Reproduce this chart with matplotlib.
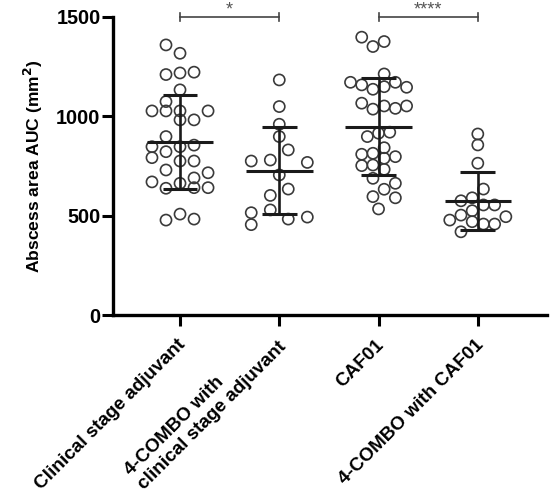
import numpy as np
import matplotlib
matplotlib.use("Agg")
import matplotlib.pyplot as plt
from matplotlib.transforms import ScaledTranslation

plt.rcParams['font.family'] = ['Liberation Sans', 'DejaVu Sans']
plt.rcParams['font.weight'] = 'bold'

groups = ["Clinical stage adjuvant", "4-COMBO with\nclinical stage adjuvant",
          "CAF01", "4-COMBO with CAF01"]

# point values, with the swarm column of each point
g1_vals = [1359, 1317, 1210, 1218, 1222, 1133, 1074, 1027, 1027, 1027, 1027,
           982, 982, 898, 847, 822, 847, 855, 792, 775, 775, 730, 716, 670,
           663, 690, 638, 641, 641, 478, 508, 483]
g1_cols = [-2.5, 0, -2.5, 0, 2.5, 0, -2.5, -5, -2.5, 0, 5,
           0, 2.5, -2.5, -5, -2.5, 0, 2.5, -5, 0, 2.5, -2.5, 5, -5,
           0, 2.5, -2.5, 2.5, 5, -2.5, 0, 2.5]

g2_vals = [1183, 1049, 960, 898, 831, 775, 780, 768, 705, 634, 602, 529,
           515, 455, 483, 493]
g2_cols = [0, 0, 0, 0, 1.6, -5, -1.6, 5, 0, 1.6, -1.6, -1.6,
           -5, -5, 1.6, 5]

g3_vals = [1398, 1351, 1376, 1213, 1171, 1158, 1136, 1149, 1171, 1146,
           1066, 1036, 1052, 1040, 1052, 898, 915, 920, 842, 809, 814, 789,
           797, 752, 755, 733, 688, 663, 633, 596, 590, 534]
g3_cols = [-3, -1, 1, 1, -5, -3, -1, 1, 3, 5,
           -3, -1, 1, 3, 5, -2, 0, 2, 1, -3, -1, 1,
           3, -3, -1, 1, -1, 3, 1, -1, 3, 0]

g4_vals = [911, 856, 764, 634, 575, 590, 554, 554, 525, 503, 495, 478,
           470, 458, 458, 419]
g4_cols = [0, 0, 0, 1, -3, -1, 1, 3, -1, -3, 5, -5,
           -1, 1, 3, -3]

means = [872, 726, 948, 575]
sds = [236, 219, 243, 145]

sig_pairs = [(0, 1), (2, 3)]
sig_labels = ["*", "****"]

values = [g1_vals, g2_vals, g3_vals, g4_vals]
cols = [g1_cols, g2_cols, g3_cols, g4_cols]

fig = plt.figure(figsize=(5.54, 4.97), dpi=100)
ax = fig.add_axes([0.204, 0.366, 0.783, 0.600])

slot = 0.0565
for i in range(len(groups)):
    x = i + np.array(cols[i]) * slot
    ax.scatter(x, values[i], s=64, facecolors='none', edgecolors='#3a3a3a',
               linewidths=1.2, zorder=2, clip_on=False)
    # mean line and SD whiskers
    ax.hlines(means[i], i - 0.335, i + 0.335, color='#1a1a1a', lw=2.2, zorder=3)
    ax.vlines(i, means[i] - sds[i], means[i] + sds[i], color='#1a1a1a', lw=1.9, zorder=3)
    ax.hlines([means[i] - sds[i], means[i] + sds[i]], i - 0.175, i + 0.175,
              color='#1a1a1a', lw=2.2, zorder=3)

for (a, b), lab in zip(sig_pairs, sig_labels):
    ax.plot([a, b], [1500, 1500], color='#444444', lw=1.2, clip_on=False)
    ax.plot([a, a], [1480, 1520], color='#444444', lw=1.2, clip_on=False)
    ax.plot([b, b], [1480, 1520], color='#444444', lw=1.2, clip_on=False)
    ax.text((a + b) / 2, 1580, lab, ha='center', va='top', fontsize=13,
            color='#555555', fontweight='normal', clip_on=False)

ax.set_xlim(-0.675, 3.695)
ax.set_ylim(0, 1500)
ax.set_yticks([0, 500, 1000, 1500])
ax.set_yticklabels(['0', '500', '1000', '1500'], fontsize=14.3, fontweight='bold')
ax.set_xticks(range(len(groups)))
ax.set_xticklabels(groups, rotation=45, ha='right', va='baseline',
                   rotation_mode='anchor', fontsize=13.6, fontweight='bold',
                   multialignment='left')
ax.set_ylabel('Abscess area AUC (mm$\\mathbf{^2}$)', fontsize=12.6,
              fontweight='bold', labelpad=8)

for s in ['top', 'right']:
    ax.spines[s].set_visible(False)
for s in ['left', 'bottom']:
    ax.spines[s].set_linewidth(2.4)
ax.tick_params(axis='both', width=2.2, length=8, pad=1)

shift = ScaledTranslation(0.06, -0.18, fig.dpi_scale_trans)
for lab in ax.get_xticklabels():
    lab.set_transform(lab.get_transform() + shift)

fig.savefig('out.png', dpi=100)
